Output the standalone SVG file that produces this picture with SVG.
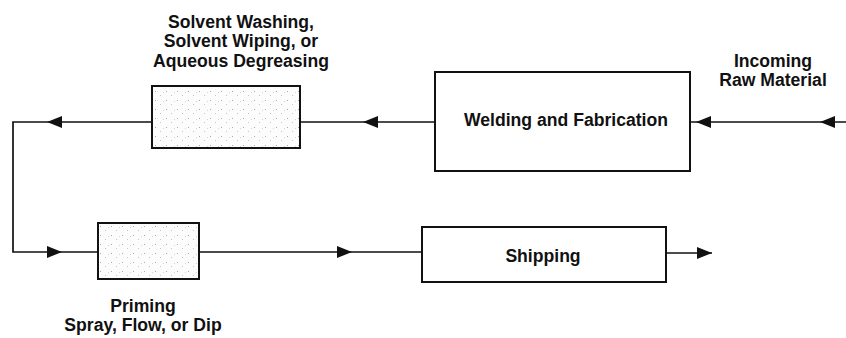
<svg xmlns="http://www.w3.org/2000/svg" xmlns:xlink="http://www.w3.org/1999/xlink" width="846" height="338" viewBox="0 0 846 338">
<style>
.box{fill:#fff;stroke:#111;stroke-width:2}
.stip{fill:url(#dots);stroke:#111;stroke-width:2}
.ln{fill:none;stroke:#111;stroke-width:1.7}
.t{font-family:"Liberation Sans",Arial,sans-serif;font-weight:bold;font-size:17.6px;fill:#111;text-anchor:middle}
.ah{fill:#111}
</style>
<defs>
<pattern id="dots" width="11" height="9" patternUnits="userSpaceOnUse">
<rect width="11" height="9" fill="#fcfcfc"/>
<rect x="1" y="1" width="1" height="1" fill="#aaa"/>
<rect x="6" y="5" width="1" height="1" fill="#c4c4c4"/>
<rect x="9" y="2" width="1" height="1" fill="#d6d6d6"/>
</pattern>
<path id="ah" d="M0,0 L15,-6 L15,6 Z" class="ah"/>
</defs>
<g id="connectors">
<path class="ln" d="M846,122 H690"/>
<path class="ln" d="M435,122 H300"/>
<path class="ln" d="M152,122 H13 V252 H98"/>
<path class="ln" d="M199,252 H422"/>
<path class="ln" d="M666,253 H712"/>
<use xlink:href="#ah" transform="translate(820,122)"/>
<use xlink:href="#ah" transform="translate(696,122)"/>
<use xlink:href="#ah" transform="translate(363,122)"/>
<use xlink:href="#ah" transform="translate(47,122)"/>
<use xlink:href="#ah" transform="translate(62,252) rotate(180)"/>
<use xlink:href="#ah" transform="translate(352,252) rotate(180)"/>
<use xlink:href="#ah" transform="translate(712,253) rotate(180)"/>
</g>
<g id="incoming">
<text class="t" x="773" y="67">Incoming</text>
<text class="t" x="773" y="86">Raw Material</text>
</g>
<g id="welding">
<rect class="box" x="435" y="72" width="255" height="99"/>
<text class="t" x="566" y="126">Welding and Fabrication</text>
</g>
<g id="solvent">
<rect class="stip" x="152" y="86" width="148" height="62"/>
<text class="t" x="241" y="28">Solvent Washing,</text>
<text class="t" x="241" y="47">Solvent Wiping, or</text>
<text class="t" x="241" y="67">Aqueous Degreasing</text>
</g>
<g id="priming">
<rect class="stip" x="98" y="223" width="101" height="56"/>
<text class="t" x="143" y="312">Priming</text>
<text class="t" x="143" y="331">Spray, Flow, or Dip</text>
</g>
<g id="shipping">
<rect class="box" x="422" y="227" width="244" height="55"/>
<text class="t" x="543" y="262">Shipping</text>
</g>
</svg>
